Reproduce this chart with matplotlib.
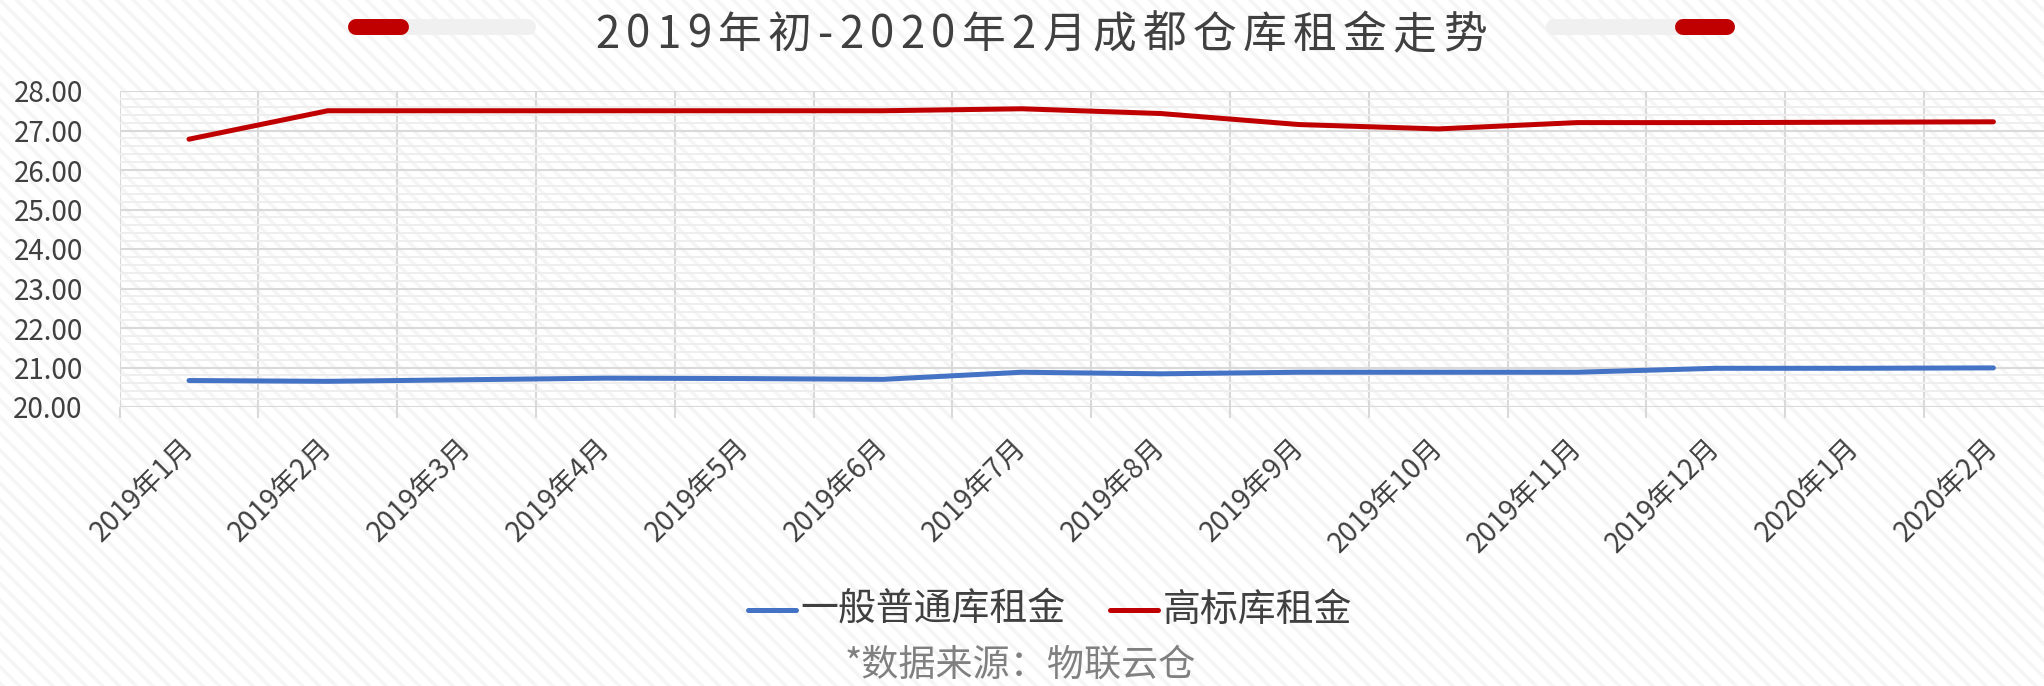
import matplotlib
matplotlib.use("Agg")
import matplotlib.pyplot as plt
from matplotlib.lines import Line2D
from matplotlib.patches import Rectangle
from matplotlib.ticker import MultipleLocator, FixedLocator, NullFormatter

plt.rcParams['font.family'] = ['Noto Sans CJK SC', 'DejaVu Sans']

# ---- data ----
categories = ['2019年1月', '2019年2月', '2019年3月', '2019年4月', '2019年5月', '2019年6月',
              '2019年7月', '2019年8月', '2019年9月', '2019年10月', '2019年11月', '2019年12月',
              '2020年1月', '2020年2月']
general_rent = [20.67, 20.65, 20.69, 20.73, 20.72, 20.70, 20.88, 20.84, 20.88, 20.88,
                20.88, 20.98, 20.98, 20.99]
highstd_rent = [26.78, 27.50, 27.50, 27.50, 27.50, 27.50, 27.55, 27.43, 27.15, 27.04,
                27.20, 27.20, 27.21, 27.22]
series_names = ['一般普通库租金', '高标库租金']
series_colors = ['#4472C4', '#C00000']
title_text = '2019年初-2020年2月成都仓库租金走势'
source_text = '*数据来源：物联云仓'

W, H = 2044, 686
DPI = 100
fig = plt.figure(figsize=(W / DPI, H / DPI), dpi=DPI)
fig.patch.set_facecolor('white')

# subtle diagonal stripe background
plt.rcParams['hatch.linewidth'] = 2.5
bg = Rectangle((0, 0), 1, 1, transform=fig.transFigure, facecolor='white',
               edgecolor='#F5F5F5', hatch='\\\\', linewidth=0, zorder=-10)
fig.add_artist(bg)

def fx(px):
    return px / W

def fy(py):
    return 1 - py / H

# axes geometry (extends past right edge as in the reference)
left_px, top_px, bottom_px = 119.6, 91, 407
cat_w = 138.8
n = len(categories)
right_px = left_px + n * cat_w
ax = fig.add_axes([fx(left_px), fy(bottom_px), (right_px - left_px) / W, (bottom_px - top_px) / H])
ax.set_facecolor('none')

x = list(range(n))
ax.plot(x, general_rent, color=series_colors[0], lw=3.6, solid_capstyle='round', zorder=5)
ax.plot(x, highstd_rent, color=series_colors[1], lw=3.6, solid_capstyle='round', zorder=5)

ax.set_xlim(-0.5, n - 0.5)
ax.set_ylim(20, 28)

for s in ax.spines.values():
    s.set_visible(False)

# y grid
ax.yaxis.set_major_locator(MultipleLocator(1))
ax.yaxis.set_minor_locator(MultipleLocator(0.2))
ax.grid(which='major', axis='y', color='#D9D9D9', lw=1.5, zorder=1)
ax.grid(which='minor', axis='y', color='#EEEEEE', lw=1.4, zorder=0)
ax.set_yticks([20, 21, 22, 23, 24, 25, 26, 27, 28])
ax.set_yticklabels([f'{v:.2f}' for v in [20, 21, 22, 23, 24, 25, 26, 27, 28]])
ax.tick_params(axis='y', which='both', length=0, pad=26.5, labelsize=20, labelcolor='#404040')

# x: labels at centers, tick marks / gridlines at boundaries
ax.set_xticks(x)
ax.set_xticklabels(categories, rotation=45, ha='right', va='center', rotation_mode='anchor')
ax.xaxis.set_minor_locator(FixedLocator([i - 0.5 for i in range(n + 1)]))
ax.xaxis.set_minor_formatter(NullFormatter())
ax.tick_params(axis='x', which='major', length=0, pad=26, labelsize=20, labelcolor='#404040')
ax.tick_params(axis='x', which='minor', length=8, width=1.5, color='#D9D9D9')
ax.grid(which='minor', axis='x', color='#D9D9D9', lw=1.5, zorder=1)

# ---- title with letter spacing ----
title_fs = 31.5
title_color = '#404040'
renderer = fig.canvas.get_renderer()
widths = []
for ch in title_text:
    t = fig.text(0, 0, ch, fontsize=title_fs)
    widths.append(t.get_window_extent(renderer).width)
    t.remove()
target_w = 891
spacing = (target_w - sum(widths)) / (len(title_text) - 1)
cx = 1041
xpos = cx - target_w / 2
for ch, w in zip(title_text, widths):
    fig.text(fx(xpos), fy(35), ch, fontsize=title_fs, color=title_color, ha='left', va='center')
    xpos += w + spacing

# decorative pills
pill_lw = 16 * 72 / DPI
def pill(x0, x1, color):
    r = 8
    fig.add_artist(Line2D([fx(x0 + r), fx(x1 - r)], [fy(27), fy(27)], color=color, lw=pill_lw,
                          solid_capstyle='round', transform=fig.transFigure))
pill(348, 536, '#F0F0F0')
pill(348, 409, '#C00000')
pill(1546, 1735, '#F0F0F0')
pill(1675, 1735, '#C00000')

# ---- legend ----
leg_y = 610
legend_items = [(746, 798, 800), (1108, 1160, 1163)]
for (l0, l1, tx), name, col in zip(legend_items, series_names, series_colors):
    fig.add_artist(Line2D([fx(l0 + 2), fx(l1 - 2)], [fy(leg_y), fy(leg_y)], color=col, lw=3.6,
                          solid_capstyle='round', transform=fig.transFigure))
    fig.text(fx(tx), fy(leg_y), name, fontsize=27.3, color='#404040', ha='left', va='center')

fig.text(fx(845), fy(665), source_text, fontsize=26.7, color='#808080', ha='left', va='center')

fig.savefig('out.png', dpi=DPI)
